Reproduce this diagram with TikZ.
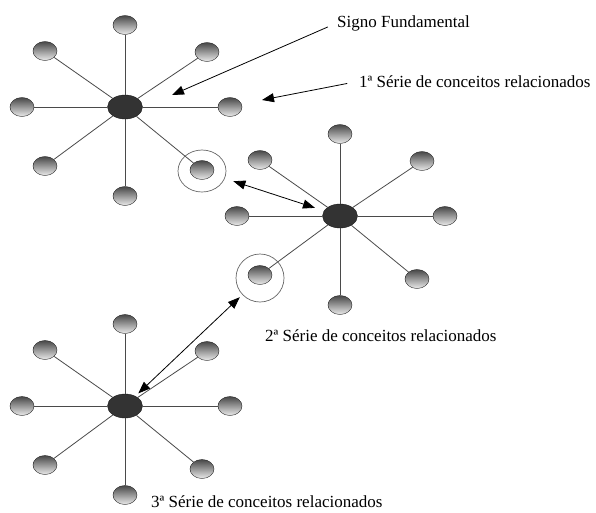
\documentclass[tikz,border=0pt]{standalone}
\usepackage{fontspec}
\setmainfont{Liberation Serif}
\usetikzlibrary{shapes.geometric,arrows.meta}
\definecolor{hubc}{HTML}{333333}
\definecolor{linec}{HTML}{4A4A4A}
\begin{document}
\begin{tikzpicture}[x=1pt,y=-1pt,
  hub/.style={ellipse,draw=black!90,fill=hubc,minimum width=35pt,minimum height=24pt,inner sep=0pt},
  sat/.style={ellipse,draw=black!85,top color=black!72,bottom color=black!8,minimum width=24pt,minimum height=19pt,inner sep=0pt},
  ring/.style={ellipse,draw=black!60,line width=0.7pt,inner sep=0pt},
  spoke/.style={draw=linec,line width=0.8pt},
  arr/.style={draw=black,line width=0.8pt,-{Triangle[length=12pt,width=9pt]}},
  darr/.style={draw=black,line width=0.8pt,{Triangle[length=12pt,width=9pt]}-{Triangle[length=12pt,width=9pt]}},
  lbl/.style={font=\fontsize{17}{19}\selectfont,anchor=base west,inner sep=0pt}]
\useasboundingbox (0,0) rectangle (596,512);
\foreach \k/\cx/\cy in {1/125/107, 2/340/216, 3/125/406} {
  \foreach \n/\dx/\dy in {t/0/-82, tl/-80/-56, tr/82/-55, l/-103/0, r/105/0, bl/-80/59, br/77/63, b/0/89} {
    \node[sat] (s\k\n) at ({\cx+(\dx)},{\cy+(\dy)}) {};
  }
  \node[hub] (c\k) at (\cx,\cy) {};
  \foreach \n in {t,tl,tr,l,r,bl,br,b} {
    \draw[spoke] (c\k) -- (s\k\n);
  }
}
\node[ring,minimum width=48pt,minimum height=42pt] (r1) at (202,171) {};
\node[ring,minimum width=48pt,minimum height=48pt] (r2) at (260,278) {};
\node[lbl] (sig) at (337,27) {Signo Fundamental};
\node[lbl] (ser1) at (359,87) {1ª Série de conceitos relacionados};
\node[lbl] (ser2) at (265,341) {2ª Série de conceitos relacionados};
\node[lbl] (ser3) at (151,507) {3ª Série de conceitos relacionados};
\coordinate (a1) at (172,95);
\coordinate (a2) at (262,100);
\draw[arr,shorten <=10pt] (sig.west) -- (a1);
\draw[arr,shorten <=12pt] (ser1.west) -- (a2);
\draw[darr,shorten <=9pt,shorten >=9.5pt] (r1) -- (c2);
\draw[darr,shorten <=3.5pt,shorten >=4pt] (r2) -- (c3);
\end{tikzpicture}
\end{document}
